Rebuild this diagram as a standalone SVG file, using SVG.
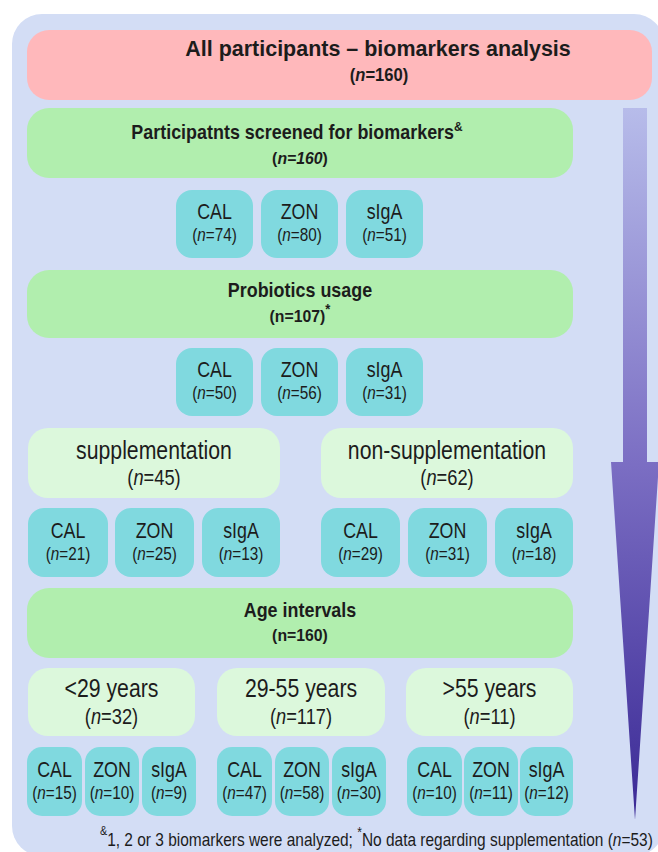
<svg xmlns="http://www.w3.org/2000/svg" width="658" height="852" viewBox="0 0 658 852">
<defs>
<linearGradient id="arrowGrad" gradientUnits="userSpaceOnUse" x1="0" y1="108" x2="0" y2="820">
<stop offset="0" stop-color="#b7bcea"/>
<stop offset="0.5" stop-color="#7b6ec3"/>
<stop offset="1" stop-color="#3a2995"/>
</linearGradient>
<style>
text{font-family:"Liberation Sans",Arial,sans-serif;fill:#1c1c1c;text-anchor:middle}
.b{font-weight:bold}
.tl{font-size:22px}
.tn{font-size:18px}
.ll{font-size:25px}
.ln{font-size:21.5px}
.i{font-style:italic}
.pink{fill:#ffb8bb}
.green{fill:#b1eeae}
.lgreen{fill:#dcf8dc}
.teal{fill:#80d9df}
</style>
</defs>
<rect x="12" y="14" width="652" height="842" rx="30" fill="#d3ddf5"/>
<g id="connectors">
<polygon points="623,108 647,108 647,462 659,462 635,820 611,462 623,462" fill="url(#arrowGrad)"/>
</g>
<g id="all">
<rect class="pink" x="27" y="30" width="625" height="70" rx="22"/>
<text class="b" font-size="22.5" transform="translate(378 56) scale(.955 1)">All participants – biomarkers analysis</text>
<text class="b" font-size="17.5" transform="translate(379 81) scale(.95 1)">(<tspan class="i">n</tspan>=160)</text>
</g>
<g id="screened">
<rect class="green" x="27" y="108" width="546" height="70" rx="22"/>
<text class="b" font-size="19.5" transform="translate(297 139) scale(.92 1)">Participatnts screened for biomarkers<tspan font-size="13" dy="-8">&amp;</tspan></text>
<text class="b" font-size="17" transform="translate(300 164) scale(.93 1)">(<tspan class="i">n=160</tspan>)</text>
</g>
<g id="screened-cal"><rect class="teal" x="176" y="190" width="77" height="68" rx="16"/>
<text class="tl" transform="translate(214.5 219) scale(.81 1)">CAL</text>
<text class="tn" transform="translate(214.5 241) scale(.85 1)">(<tspan class="i">n</tspan>=74)</text></g>
<g id="screened-zon"><rect class="teal" x="261" y="190" width="77" height="68" rx="16"/>
<text class="tl" transform="translate(299.5 219) scale(.81 1)">ZON</text>
<text class="tn" transform="translate(299.5 241) scale(.85 1)">(<tspan class="i">n</tspan>=80)</text></g>
<g id="screened-siga"><rect class="teal" x="346" y="190" width="77" height="68" rx="16"/>
<text class="tl" transform="translate(384.5 219) scale(.81 1)">sIgA</text>
<text class="tn" transform="translate(384.5 241) scale(.85 1)">(<tspan class="i">n</tspan>=51)</text></g>
<g id="probiotics">
<rect class="green" x="27" y="270" width="546" height="68" rx="22"/>
<text class="b" font-size="19.5" transform="translate(300 297) scale(.92 1)">Probiotics usage</text>
<text class="b" font-size="17" transform="translate(300 322) scale(.93 1)">(n=107)<tspan font-size="14" dy="-8">*</tspan></text>
</g>
<g id="prob-cal"><rect class="teal" x="176" y="348" width="77" height="68" rx="16"/>
<text class="tl" transform="translate(214.5 377) scale(.81 1)">CAL</text>
<text class="tn" transform="translate(214.5 399) scale(.85 1)">(<tspan class="i">n</tspan>=50)</text></g>
<g id="prob-zon"><rect class="teal" x="261" y="348" width="77" height="68" rx="16"/>
<text class="tl" transform="translate(299.5 377) scale(.81 1)">ZON</text>
<text class="tn" transform="translate(299.5 399) scale(.85 1)">(<tspan class="i">n</tspan>=56)</text></g>
<g id="prob-siga"><rect class="teal" x="346" y="348" width="77" height="68" rx="16"/>
<text class="tl" transform="translate(384.5 377) scale(.81 1)">sIgA</text>
<text class="tn" transform="translate(384.5 399) scale(.85 1)">(<tspan class="i">n</tspan>=31)</text></g>
<g id="supplementation">
<rect class="lgreen" x="28" y="428" width="252" height="70" rx="20"/>
<text class="ll" transform="translate(154 459) scale(.85 1)">supplementation</text>
<text class="ln" transform="translate(154 485) scale(.85 1)">(<tspan class="i">n</tspan>=45)</text>
</g>
<g id="non-supplementation">
<rect class="lgreen" x="321" y="428" width="252" height="70" rx="20"/>
<text class="ll" transform="translate(447 459) scale(.85 1)">non-supplementation</text>
<text class="ln" transform="translate(447 485) scale(.85 1)">(<tspan class="i">n</tspan>=62)</text>
</g>
<g id="sup-cal"><rect class="teal" x="28" y="508" width="80" height="69" rx="16"/>
<text class="tl" transform="translate(68 538) scale(.81 1)">CAL</text>
<text class="tn" transform="translate(68 560) scale(.85 1)">(<tspan class="i">n</tspan>=21)</text></g>
<g id="sup-zon"><rect class="teal" x="115" y="508" width="79" height="69" rx="16"/>
<text class="tl" transform="translate(154.5 538) scale(.81 1)">ZON</text>
<text class="tn" transform="translate(154.5 560) scale(.85 1)">(<tspan class="i">n</tspan>=25)</text></g>
<g id="sup-siga"><rect class="teal" x="202" y="508" width="78" height="69" rx="16"/>
<text class="tl" transform="translate(241 538) scale(.81 1)">sIgA</text>
<text class="tn" transform="translate(241 560) scale(.85 1)">(<tspan class="i">n</tspan>=13)</text></g>
<g id="nonsup-cal"><rect class="teal" x="321" y="508" width="79" height="69" rx="16"/>
<text class="tl" transform="translate(360.5 538) scale(.81 1)">CAL</text>
<text class="tn" transform="translate(360.5 560) scale(.85 1)">(<tspan class="i">n</tspan>=29)</text></g>
<g id="nonsup-zon"><rect class="teal" x="408" y="508" width="79" height="69" rx="16"/>
<text class="tl" transform="translate(447.5 538) scale(.81 1)">ZON</text>
<text class="tn" transform="translate(447.5 560) scale(.85 1)">(<tspan class="i">n</tspan>=31)</text></g>
<g id="nonsup-siga"><rect class="teal" x="495" y="508" width="78" height="69" rx="16"/>
<text class="tl" transform="translate(534 538) scale(.81 1)">sIgA</text>
<text class="tn" transform="translate(534 560) scale(.85 1)">(<tspan class="i">n</tspan>=18)</text></g>
<g id="age">
<rect class="green" x="27" y="588" width="546" height="70" rx="22"/>
<text class="b" font-size="19.5" transform="translate(300 617) scale(.92 1)">Age intervals</text>
<text class="b" font-size="17" transform="translate(300 641) scale(.93 1)">(n=160)</text>
</g>
<g id="age-under29">
<rect class="lgreen" x="28" y="668" width="167" height="68" rx="20"/>
<text class="ll" transform="translate(111.5 697) scale(.85 1)">&lt;29 years</text>
<text class="ln" transform="translate(111.5 724) scale(.85 1)">(<tspan class="i">n</tspan>=32)</text>
</g>
<g id="age-29-55">
<rect class="lgreen" x="217" y="668" width="168" height="68" rx="20"/>
<text class="ll" transform="translate(301 697) scale(.85 1)">29-55 years</text>
<text class="ln" transform="translate(301 724) scale(.85 1)">(<tspan class="i">n</tspan>=117)</text>
</g>
<g id="age-over55">
<rect class="lgreen" x="406" y="668" width="167" height="68" rx="20"/>
<text class="ll" transform="translate(489.5 697) scale(.85 1)">&gt;55 years</text>
<text class="ln" transform="translate(489.5 724) scale(.85 1)">(<tspan class="i">n</tspan>=11)</text>
</g>
<g id="a1-cal"><rect class="teal" x="27" y="747" width="55" height="69" rx="15"/>
<text class="tl" transform="translate(54.5 777) scale(.81 1)">CAL</text>
<text class="tn" transform="translate(54.5 799) scale(.85 1)">(<tspan class="i">n</tspan>=15)</text></g>
<g id="a1-zon"><rect class="teal" x="85" y="747" width="54" height="69" rx="15"/>
<text class="tl" transform="translate(112 777) scale(.81 1)">ZON</text>
<text class="tn" transform="translate(112 799) scale(.85 1)">(<tspan class="i">n</tspan>=10)</text></g>
<g id="a1-siga"><rect class="teal" x="142" y="747" width="54" height="69" rx="15"/>
<text class="tl" transform="translate(169 777) scale(.81 1)">sIgA</text>
<text class="tn" transform="translate(169 799) scale(.85 1)">(<tspan class="i">n</tspan>=9)</text></g>
<g id="a2-cal"><rect class="teal" x="217" y="747" width="55" height="69" rx="15"/>
<text class="tl" transform="translate(244.5 777) scale(.81 1)">CAL</text>
<text class="tn" transform="translate(244.5 799) scale(.85 1)">(<tspan class="i">n</tspan>=47)</text></g>
<g id="a2-zon"><rect class="teal" x="275" y="747" width="54" height="69" rx="15"/>
<text class="tl" transform="translate(302 777) scale(.81 1)">ZON</text>
<text class="tn" transform="translate(302 799) scale(.85 1)">(<tspan class="i">n</tspan>=58)</text></g>
<g id="a2-siga"><rect class="teal" x="332" y="747" width="54" height="69" rx="15"/>
<text class="tl" transform="translate(359 777) scale(.81 1)">sIgA</text>
<text class="tn" transform="translate(359 799) scale(.85 1)">(<tspan class="i">n</tspan>=30)</text></g>
<g id="a3-cal"><rect class="teal" x="407" y="747" width="55" height="69" rx="15"/>
<text class="tl" transform="translate(434.5 777) scale(.81 1)">CAL</text>
<text class="tn" transform="translate(434.5 799) scale(.85 1)">(<tspan class="i">n</tspan>=10)</text></g>
<g id="a3-zon"><rect class="teal" x="464" y="747" width="54" height="69" rx="15"/>
<text class="tl" transform="translate(491 777) scale(.81 1)">ZON</text>
<text class="tn" transform="translate(491 799) scale(.85 1)">(<tspan class="i">n</tspan>=11)</text></g>
<g id="a3-siga"><rect class="teal" x="520" y="747" width="53" height="69" rx="15"/>
<text class="tl" transform="translate(546.5 777) scale(.81 1)">sIgA</text>
<text class="tn" transform="translate(546.5 799) scale(.85 1)">(<tspan class="i">n</tspan>=12)</text></g>
<g id="footnote">
<text transform="translate(100 846) scale(.86 1)" style="text-anchor:start" font-size="18"><tspan font-size="12.5" dy="-11">&amp;</tspan><tspan dy="11">1, 2 or 3 biomarkers were analyzed; </tspan><tspan font-size="14" dy="-9">*</tspan><tspan dy="9">No data regarding supplementation (</tspan><tspan class="i">n</tspan>=53)</text>
</g>
</svg>
